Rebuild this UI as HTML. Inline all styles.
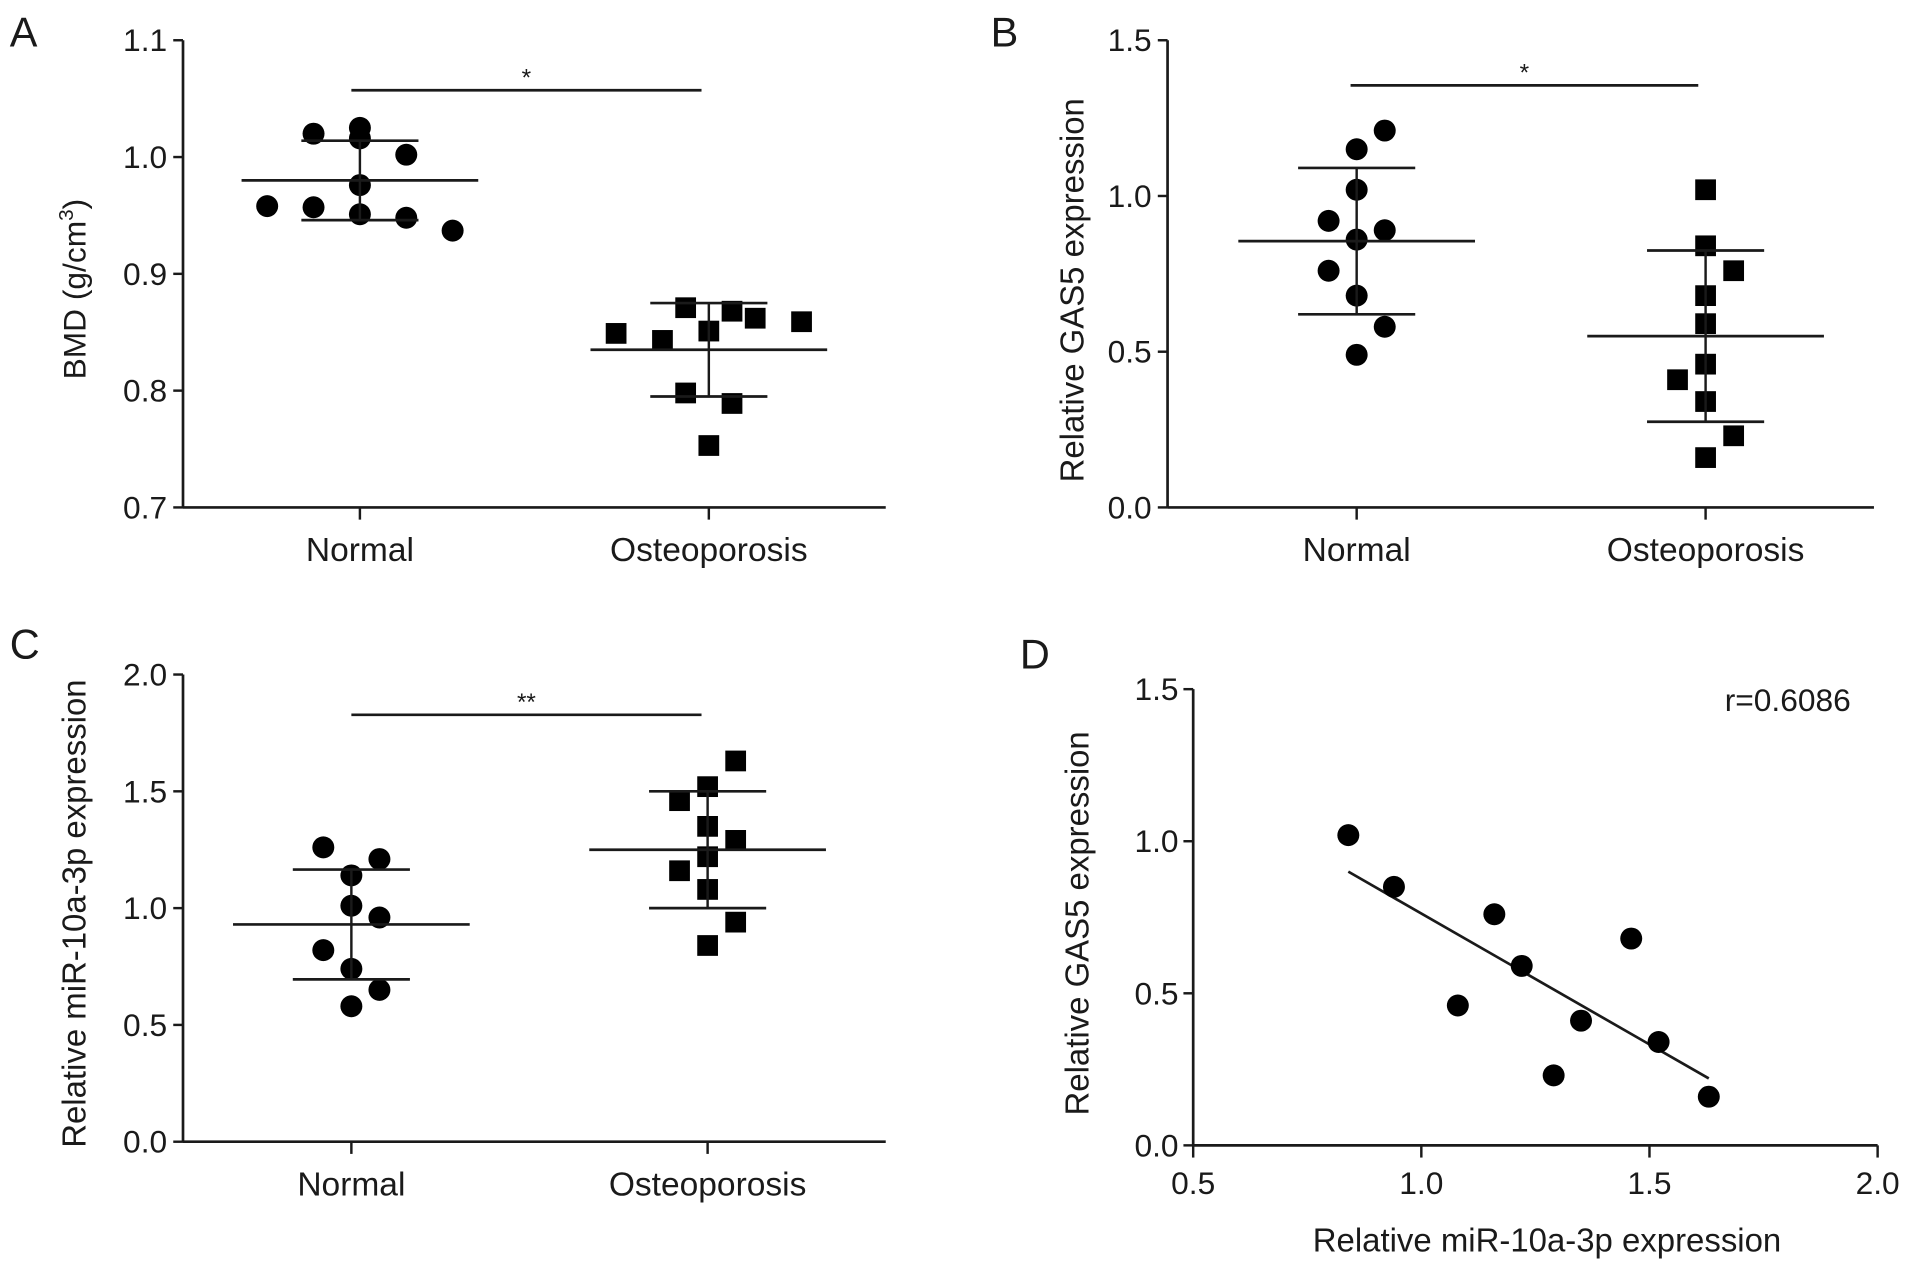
<!DOCTYPE html>
<html><head><meta charset="utf-8"><style>
html,body{margin:0;padding:0;background:#fff;}
svg{display:block;}
text{font-family:"Liberation Sans",sans-serif;fill:#1a1a1a;}
</style></head><body>
<svg id="fig" width="1913" height="1271" viewBox="0 0 1568 1042" preserveAspectRatio="none" xmlns="http://www.w3.org/2000/svg"></svg>
<script>
// Panel A data
const aTicks=[0.7,0.8,0.9,1.0,1.1];
const aNormal=[1.02,1.025,1.016,1.002,0.976,0.958,0.957,0.951,0.948,0.937];
const aNormalOff=[-1,0,0,1,0,-2,-1,0,1,2];
const aOsteo=[0.849,0.843,0.871,0.851,0.868,0.862,0.859,0.798,0.789,0.753];
const aOsteoOff=[-2,-1,-0.5,0,0.5,1,2,-0.5,0.5,0];
const aStats=[[0.98,1.014,0.946],[0.835,0.875,0.795]];
// Panel B data
const bTicks=[0.0,0.5,1.0,1.5];
const bNormal=[1.21,1.15,1.02,0.92,0.89,0.86,0.76,0.68,0.58,0.49];
const bNormalOff=[1,0,0,-1,1,0,-1,0,1,0];
const bOsteo=[1.02,0.84,0.76,0.68,0.59,0.46,0.41,0.34,0.23,0.16];
const bOsteoOff=[0,0,1,0,0,0,-1,0,1,0];
const bStats=[[0.855,1.09,0.62],[0.55,0.825,0.275]];
// Panel C data
const cTicks=[0.0,0.5,1.0,1.5,2.0];
const cNormal=[1.26,1.21,1.14,1.01,0.96,0.82,0.74,0.65,0.58];
const cNormalOff=[-1,1,0,0,1,-1,0,1,0];
const cOsteo=[1.63,1.52,1.46,1.35,1.29,1.22,1.16,1.08,0.94,0.84];
const cOsteoOff=[1,0,-1,0,1,0,-1,0,1,0];
const cStats=[[0.93,1.165,0.695],[1.25,1.50,1.0]];
// Panel D data
const dXTicks=[0.5,1.0,1.5,2.0];
const dYTicks=[0.0,0.5,1.0,1.5];
const dX=[0.84,0.94,1.08,1.16,1.22,1.29,1.35,1.46,1.52,1.63];
const dY=[1.02,0.85,0.46,0.76,0.59,0.23,0.41,0.68,0.34,0.16];
const dFit=[[0.84,0.90],[1.63,0.22]];

const svg=document.getElementById('fig');
const NS='http://www.w3.org/2000/svg';
function mk(tag,attrs,parent){const e=document.createElementNS(NS,tag);for(const k in attrs)e.setAttribute(k,attrs[k]);(parent||svg).appendChild(e);return e;}
function line(x1,y1,x2,y2,w,p){return mk('line',{x1,y1,x2,y2,stroke:'#1a1a1a','stroke-width':w||2.2},p);}
function txt(s,x,y,size,anchor,p,rot){const t=mk('text',{x,y,'font-size':size,'text-anchor':anchor||'middle'},p);if(rot)t.setAttribute('transform','rotate(-90 '+x+' '+y+')');t.textContent=s;return t;}

function dotPanel(cfg){
  const g=mk('g',{});
  
  
  const ys=v=>cfg.y0-(v-cfg.min)/(cfg.max-cfg.min)*(cfg.y0-cfg.y1);
  line(cfg.ax,cfg.y1,cfg.ax,cfg.y0,2.2,g);
  line(cfg.ax,cfg.y0,cfg.axEnd,cfg.y0,2.2,g);
  cfg.ticks.forEach(t=>{const y=ys(t);line(cfg.ax-8,y,cfg.ax,y,2,g);
    const l=txt(t.toFixed(1),cfg.ax-13,y+9,26,'end',g);
    
    });
  const cats=['Normal','Osteoporosis'];
  cfg.cx.forEach((cx,i)=>{line(cx,cfg.y0,cx,cfg.y0+10,2,g);
    const l=txt(cats[i],cx,cfg.y0+44,27.5,'middle',g);
    
    });
  const yt=txt(cfg.ytitle,cfg.ytx,cfg.yty,cfg.ytsize||27,'middle',g,true);
  
  
  if(cfg.sup){const ts=mk('tspan',{'font-size':17,dy:-10},yt);ts.textContent='3';const t2=mk('tspan',{dy:10},yt);t2.textContent=')';}
  const groups=[[cfg.n,cfg.nOff,'c'],[cfg.o,cfg.oOff,'s']];
  groups.forEach((gr,gi)=>{
    gr[0].forEach((v,k)=>{
      const x=cfg.cx[gi]+gr[1][k]*cfg.sp, y=ys(v);
      let m;
      if(gr[2]==='c') m=mk('circle',{cx:x,cy:y,r:9,fill:'#000'},g);
      else m=mk('rect',{x:x-8.5,y:y-8.5,width:17,height:17,fill:'#000'},g);
      
      
    });
    const st=cfg.stats[gi], cx=cfg.cx[gi];
    const ml=line(cx-97,ys(st[0]),cx+97,ys(st[0]),2.2,g);
    
    
    line(cx-48,ys(st[1]),cx+48,ys(st[1]),2.2,g);
    line(cx-48,ys(st[2]),cx+48,ys(st[2]),2.2,g);
    line(cx,ys(st[1]),cx,ys(st[2]),2,g);
  });
  const sl=line(cfg.sig[0],cfg.sig[2],cfg.sig[1],cfg.sig[2],2.2,g);
  
  
  txt(cfg.star,(cfg.sig[0]+cfg.sig[1])/2,cfg.sig[2]-4,20,'middle',g);
  const pl=txt(cfg.letter,cfg.lx,cfg.ly,34,'start',g);
  
  
}
dotPanel({name:'panel-a',ax:150,axEnd:726,y0:416,y1:33,min:0.7,max:1.1,ticks:aTicks,cx:[295,581],sp:38,
  n:aNormal,nOff:aNormalOff,o:aOsteo,oOff:aOsteoOff,stats:aStats,sig:[288,575,74],star:'*',
  ytitle:'BMD (g/cm',sup:true,ytx:70,yty:237,ytsize:26,letter:'A',lx:8,ly:38});
dotPanel({name:'panel-b',ax:957,axEnd:1536,y0:416,y1:33,min:0,max:1.5,ticks:bTicks,cx:[1112,1398],sp:23,
  n:bNormal,nOff:bNormalOff,o:bOsteo,oOff:bOsteoOff,stats:bStats,sig:[1107,1392,70],star:'*',
  ytitle:'Relative GAS5 expression',ytx:888,yty:238,letter:'B',lx:812,ly:38});
dotPanel({name:'panel-c',ax:150,axEnd:726,y0:936,y1:553,min:0,max:2.0,ticks:cTicks,cx:[288,580],sp:23,
  n:cNormal,nOff:cNormalOff,o:cOsteo,oOff:cOsteoOff,stats:cStats,sig:[288,575,586],star:'**',
  ytitle:'Relative miR-10a-3p expression',ytx:70,yty:749,letter:'C',lx:8,ly:540});

// Panel D
(function(){
  const g=mk('g',{});
  
  
  const X0=978,X1=1539,Y0=939,Y1=565;
  const xs=v=>X0+(v-0.5)/1.5*(X1-X0), ys=v=>Y0-v/1.5*(Y0-Y1);
  line(X0,Y1,X0,Y0,2.2,g); line(X0,Y0,X1,Y0,2.2,g);
  dYTicks.forEach(t=>{const y=ys(t);line(X0-8,y,X0,y,2,g);txt(t.toFixed(1),X0-12,y+9,26,'end',g);});
  dXTicks.forEach(t=>{const x=xs(t);line(x,Y0,x,Y0+10,2,g);txt(t.toFixed(1),x,Y0+40,26,'middle',g);});
  const xt=txt('Relative miR-10a-3p expression',1268,1026,27,'middle',g);
  
  
  const yt=txt('Relative GAS5 expression',892,757,27,'middle',g,true);
  
  
  const fl=line(xs(dFit[0][0]),ys(dFit[0][1]),xs(dFit[1][0]),ys(dFit[1][1]),2.2,g);
  
  
  dX.forEach((v,i)=>{const c=mk('circle',{cx:xs(v),cy:ys(dY[i]),r:9,fill:'#000'},g);
    
    });
  const r=txt('r=0.6086',1517,583,26,'end',g);
  
  
  const pl=txt('D',836,548,34,'start',g);
  
  
})();
</script>
</body></html>
